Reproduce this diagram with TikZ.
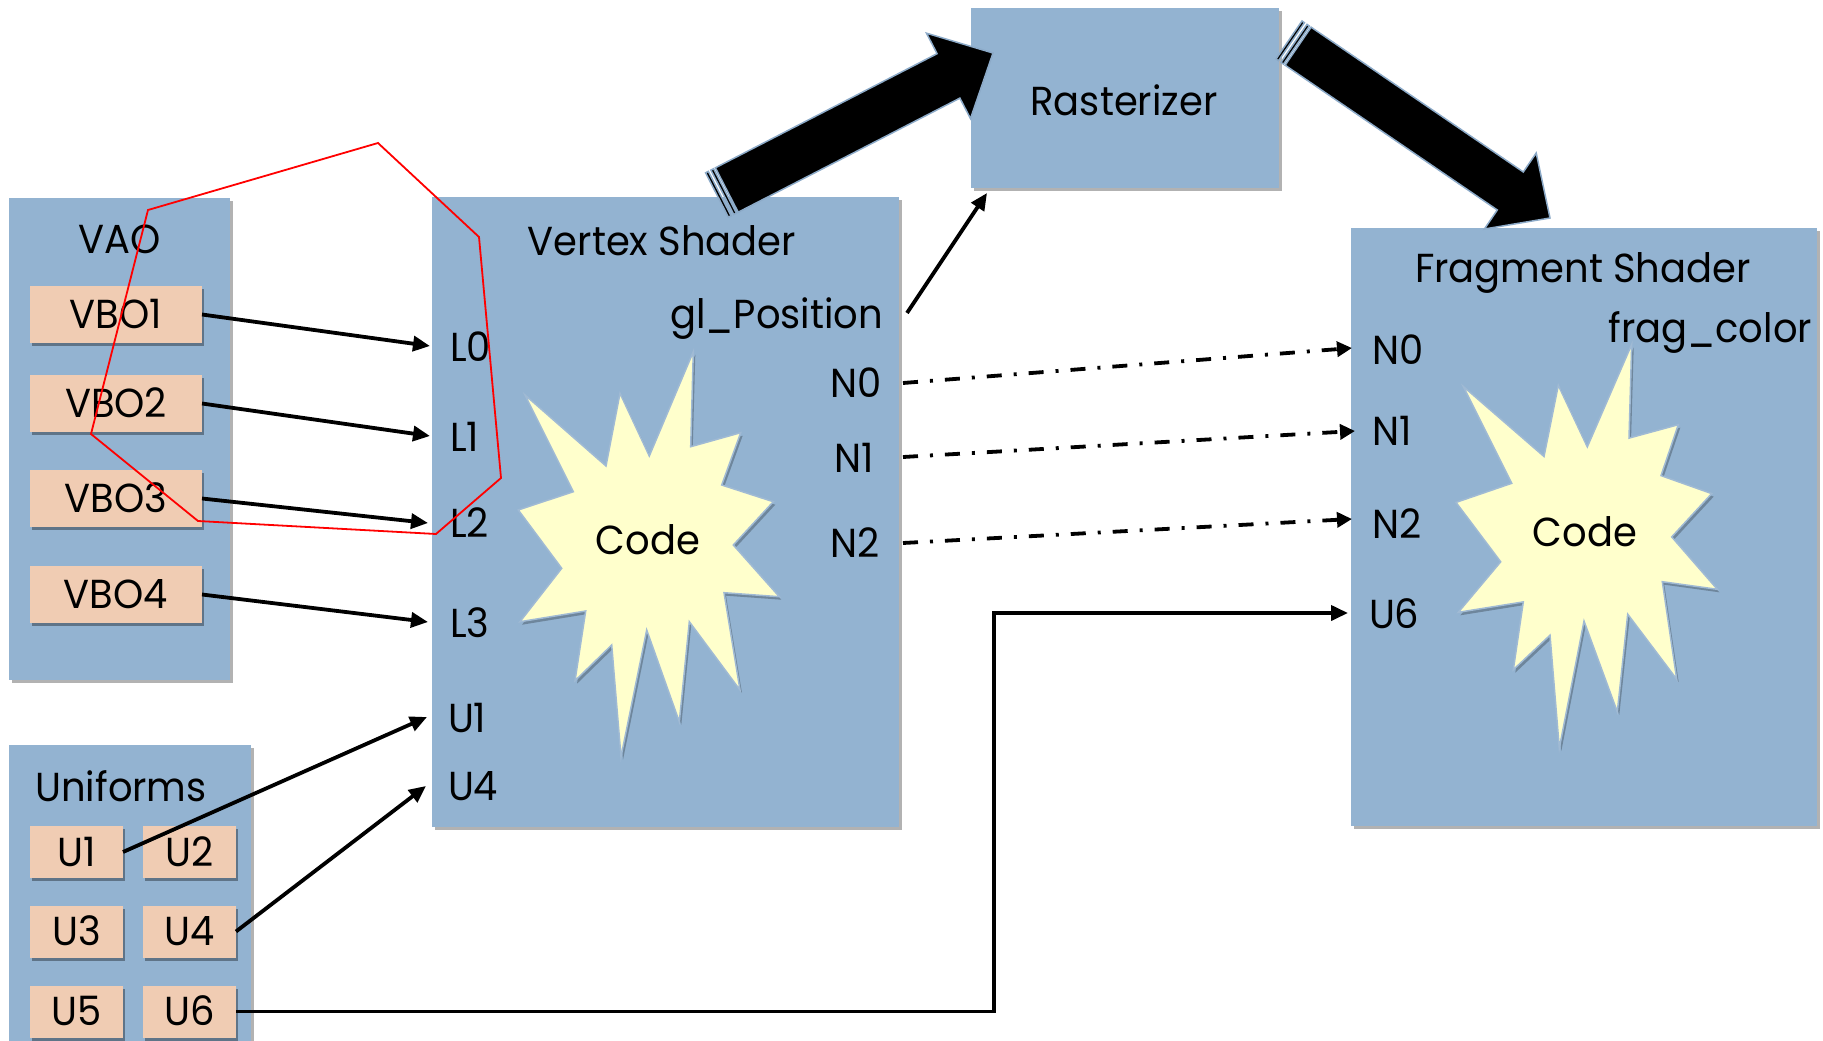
\documentclass[tikz,border=0pt]{standalone}
\usepackage{fontspec}
\setmainfont{Poppins}[FakeStretch=0.95]
\usetikzlibrary{shadows,arrows.meta}

\definecolor{boxblue}{RGB}{147,179,209}
\definecolor{peach}{RGB}{240,204,179}
\definecolor{burst}{RGB}{255,255,204}
\definecolor{burstline}{RGB}{160,186,212}
\definecolor{fatline}{RGB}{140,170,200}

\begin{document}
\begin{tikzpicture}[x=1pt,y=-1pt,
  every node/.style={inner sep=0pt,outer sep=0pt},
  txt/.style={font=\fontsize{40.5}{40.5}\selectfont},
  panel/.style={fill=boxblue,anchor=north west,
    drop shadow={shadow xshift=3pt,shadow yshift=-3pt,opacity=0.3,fill=black}},
  chip/.style={fill=peach,txt,text height=28pt,text depth=0pt,
    drop shadow={shadow xshift=2pt,shadow yshift=-3pt,opacity=0.35,fill=black}},
  starbox/.style={fill=burst,draw=burstline,line width=1.5pt,line join=miter,
    drop shadow={shadow xshift=2pt,shadow yshift=-3pt,opacity=0.25,fill=black}},
  link/.style={line width=3.8pt,-{Triangle[length=17pt,width=15pt]}},
  dlink/.style={line width=3.8pt,dash pattern=on 15pt off 12pt on 3pt off 12pt,
    -{Triangle[length=15pt,width=15pt]}},
  fat/.style={fill=black,draw=fatline,line width=1.5pt,line join=miter}
]
\useasboundingbox (0,0) rectangle (1823,1041);
\fill[white] (0,0) rectangle (1823,1041);

% panels
\node[panel,minimum width=221pt,minimum height=482pt] (vao) at (9,198) {};
\node[panel,minimum width=242pt,minimum height=310pt] (unif) at (9,745) {};
\node[panel,minimum width=467pt,minimum height=630pt] (vs) at (432,197) {};
\node[panel,minimum width=308pt,minimum height=180pt] (rast) at (971,8) {};
\node[panel,minimum width=466pt,minimum height=598pt] (fs) at (1351,228) {};

% chips
\node[chip,minimum width=172pt,minimum height=57pt] (vbo1) at (116,314.5) {VBO1};
\node[chip,minimum width=172pt,minimum height=57pt] (vbo2) at (116,403.5) {VBO2};
\node[chip,minimum width=172pt,minimum height=57pt] (vbo3) at (116,498.5) {VBO3};
\node[chip,minimum width=172pt,minimum height=57pt] (vbo4) at (116,594.5) {VBO4};
\node[chip,minimum width=93pt,minimum height=52pt] (u1) at (76.5,852) {U1};
\node[chip,minimum width=93pt,minimum height=52pt] (u2) at (189.5,852) {U2};
\node[chip,minimum width=93pt,minimum height=52pt] (u3) at (76.5,931.5) {U3};
\node[chip,minimum width=93pt,minimum height=52pt] (u4) at (189.5,931.5) {U4};
\node[chip,minimum width=93pt,minimum height=52pt] (u5) at (76.5,1011.5) {U5};
\node[chip,minimum width=93pt,minimum height=52pt] (u6) at (189.5,1011.5) {U6};

% starbursts
\draw[starbox] (693.3,351.7) -- (690.7,446.7) -- (740.7,432.7) -- (721.7,485) -- (773.3,501.7)
  -- (733.3,545) -- (779.3,596.7) -- (724,592.7) -- (740,690) -- (689.3,621.7) -- (679.3,721.7)
  -- (646.7,630) -- (621,756.7) -- (611.7,645) -- (575,680.7) -- (585.7,611) -- (520,621.7)
  -- (561.7,568.3) -- (518.3,510) -- (573.3,491.7) -- (525,395) -- (606,466) -- (620,393.3)
  -- (649.3,456) -- cycle;
\draw[starbox] (1631.7,344.4) -- (1629,438.1) -- (1678.3,424.7) -- (1661,475.6) -- (1711.7,493.6)
  -- (1671.7,536.9) -- (1717.3,589.3) -- (1662.3,581.7) -- (1676.7,679.2) -- (1627.7,614.2)
  -- (1617.3,711.8) -- (1584,621.1) -- (1559.3,748.1) -- (1550,635.2) -- (1513.3,669.7)
  -- (1523.3,601.9) -- (1458.3,612.3) -- (1500.7,561.8) -- (1456,502.4) -- (1511.7,483.3)
  -- (1463.3,386.5) -- (1544,456.5) -- (1558.3,385.3) -- (1587.3,446.9) -- cycle;

% texts
\node[txt,anchor=base] (tvao) at (120,253) {VAO};
\node[txt,anchor=base] (tunif) at (121,801) {Uniforms};
\node[txt,anchor=base] (tvs) at (662,255) {Vertex Shader};
\node[txt,anchor=base] (trast) at (1124,115) {Rasterizer};
\node[txt,anchor=base] (tfs) at (1583,282) {Fragment Shader};
\node[txt,anchor=base east] (glpos) at (883,328) {gl\_Position};
\node[txt,anchor=base east] (fragc) at (1812,342) {frag\_color};
\node[txt,anchor=base] (code1) at (648,554.5) {Code};
\node[txt,anchor=base] (code2) at (1585,546.5) {Code};

\node[txt,anchor=base west] (L0) at (450,361.5) {L0};
\node[txt,anchor=base west] (L1) at (450,451.5) {L1};
\node[txt,anchor=base west] (L2) at (450,537.5) {L2};
\node[txt,anchor=base west] (L3) at (450,637.5) {L3};
\node[txt,anchor=base west] (vU1) at (448,732.5) {U1};
\node[txt,anchor=base west] (vU4) at (448,800.5) {U4};
\node[txt,anchor=base east] (vN0) at (882,397.5) {N0};
\node[txt,anchor=base east] (vN1) at (874,472.5) {N1};
\node[txt,anchor=base east] (vN2) at (880,557.5) {N2};

\node[txt,anchor=base west] (fN0) at (1372,364.5) {N0};
\node[txt,anchor=base west] (fN1) at (1372,445) {N1};
\node[txt,anchor=base west] (fN2) at (1372,538.5) {N2};
\node[txt,anchor=base west] (fU6) at (1369,628.5) {U6};

% ports
\coordinate (pL0) at (430,346);
\coordinate (pL1) at (430,436);
\coordinate (pL2) at (428,523);
\coordinate (pL3) at (428,622);
\coordinate (pU1) at (427,717);
\coordinate (pU4) at (426,786);
\coordinate (oN0) at (903,383);
\coordinate (oN1) at (903,457);
\coordinate (oN2) at (903,543);
\coordinate (oGL) at (907,313);
\coordinate (iRast) at (987,193);
\coordinate (iN0) at (1352,348);
\coordinate (iN1) at (1355,431);
\coordinate (iN2) at (1352,519);
\coordinate (iU6) at (1348,613);
\coordinate (bend1) at (994,1011.5);
\coordinate (bend2) at (994,613);

% big arrows
\draw[fat] (715.4,167.8) -- (937.1,53.7) -- (926.5,33.2) -- (993,53) -- (970.5,118.6)
  -- (959.9,98.1) -- (738.2,212.2) -- cycle;
\draw[fat] (705.6,172.8) -- (708.3,171.4) -- (731.1,215.8) -- (728.4,217.2) -- cycle;
\draw[fat] (710.9,170.1) -- (713.6,168.7) -- (736.4,213.1) -- (733.8,214.5) -- cycle;
\draw[fat] (1311.1,27.2) -- (1523.3,172.0) -- (1536.2,153.0) -- (1550,218) -- (1484.4,229.0)
  -- (1497.3,210.0) -- (1285.1,65.2) -- cycle;
\draw[fat] (1302.0,21.0) -- (1304.4,22.7) -- (1278.5,60.7) -- (1276.0,59.0) -- cycle;
\draw[fat] (1307.0,24.4) -- (1309.4,26.1) -- (1283.5,64.1) -- (1281.0,62.4) -- cycle;

% connectors
\draw[link] (vbo1.east) -- (pL0);
\draw[link] (vbo2.east) -- (pL1);
\draw[link] (vbo3.east) -- (pL2);
\draw[link] (vbo4.east) -- (pL3);
\draw[link] (u1.east) -- (pU1);
\draw[link] (u4.east) -- (pU4);
\draw[link] (oGL) -- (iRast);
\draw[link,line join=miter] (u6.east) -- (bend1) -- (bend2) -- (iU6);
\draw[dlink] (oN0) -- (iN0);
\draw[dlink] (oN1) -- (iN1);
\draw[dlink] (oN2) -- (iN2);

% red outline
\draw[red,line width=1.8pt] (148,210) -- (378,143) -- (479,237) -- (501,478) -- (436,534)
  -- (198,521) -- (91,434) -- cycle;
\end{tikzpicture}
\end{document}
